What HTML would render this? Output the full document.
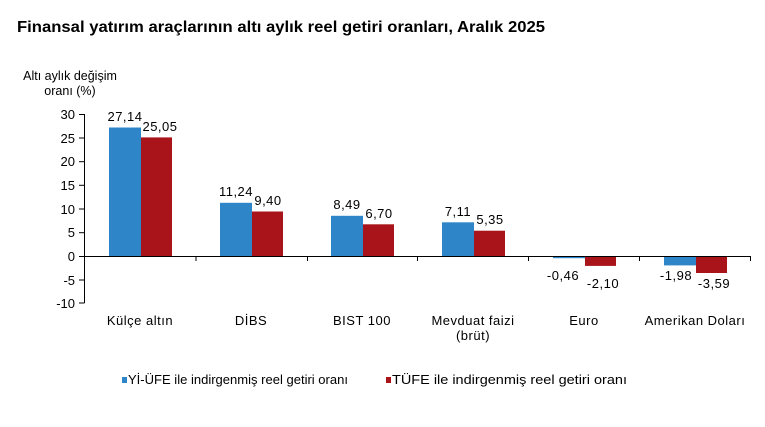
<!DOCTYPE html>
<html><head><meta charset="utf-8"><style>
html,body{margin:0;padding:0;background:#fff;}
svg{display:block;font-family:"Liberation Sans",Arial,sans-serif;}
</style></head><body>
<svg width="765" height="427" viewBox="0 0 765 427" xmlns="http://www.w3.org/2000/svg">
<text x="17" y="32" font-size="16" font-weight="bold" fill="#000" textLength="528" lengthAdjust="spacingAndGlyphs">Finansal yatırım araçlarının altı aylık reel getiri oranları, Aralık 2025</text>
<text x="70" y="80" font-size="12.5" text-anchor="middle" fill="#000">Altı aylık değişim</text>
<text x="70" y="95" font-size="12.5" text-anchor="middle" fill="#000">oranı (%)</text>
<g font-size="13" text-anchor="end" fill="#000">
<text x="75" y="119">30</text><text x="75" y="143">25</text><text x="75" y="166">20</text>
<text x="75" y="190">15</text><text x="75" y="214">10</text><text x="75" y="237">5</text>
<text x="75" y="261">0</text><text x="75" y="285">-5</text><text x="75" y="308">-10</text>
</g>
<g fill="#2E86C8">
<rect x="109" y="127.5" width="32" height="128.5"/>
<rect x="220" y="202.8" width="32" height="53.2"/>
<rect x="331" y="215.8" width="32" height="40.2"/>
<rect x="442" y="222.3" width="32" height="33.7"/>
<rect x="553" y="256" width="32" height="2.2"/>
<rect x="664" y="256" width="32" height="9.4"/>
</g>
<g fill="#A8141A">
<rect x="141" y="137.4" width="31" height="118.6"/>
<rect x="252" y="211.5" width="31" height="44.5"/>
<rect x="363" y="224.3" width="31" height="31.7"/>
<rect x="474" y="230.7" width="31" height="25.3"/>
<rect x="585" y="256" width="31" height="9.9"/>
<rect x="696" y="256" width="31" height="17"/>
</g>
<g stroke="#000" stroke-width="1" fill="none">
<line x1="84.5" y1="114" x2="84.5" y2="303"/>
<line x1="79" y1="114.5" x2="84.5" y2="114.5"/><line x1="79" y1="138" x2="84.5" y2="138"/>
<line x1="79" y1="161.7" x2="84.5" y2="161.7"/><line x1="79" y1="185.3" x2="84.5" y2="185.3"/>
<line x1="79" y1="209" x2="84.5" y2="209"/><line x1="79" y1="232.7" x2="84.5" y2="232.7"/>
<line x1="79" y1="256.5" x2="84.5" y2="256.5"/><line x1="79" y1="280" x2="84.5" y2="280"/>
<line x1="79" y1="303" x2="84.5" y2="303"/>
<line x1="84" y1="256.5" x2="751" y2="256.5"/>
<line x1="196" y1="256" x2="196" y2="261"/><line x1="307.5" y1="256" x2="307.5" y2="261"/>
<line x1="417.5" y1="256" x2="417.5" y2="261"/><line x1="528.5" y1="256" x2="528.5" y2="261"/>
<line x1="639.5" y1="256" x2="639.5" y2="261"/><line x1="750.5" y1="256" x2="750.5" y2="261"/>
</g>
<g font-size="13" text-anchor="middle" fill="#000" letter-spacing="0.5">
<text x="125" y="121">27,14</text><text x="160" y="131">25,05</text>
<text x="236" y="196">11,24</text><text x="268" y="205">9,40</text>
<text x="347" y="209">8,49</text><text x="379" y="218">6,70</text>
<text x="458" y="216">7,11</text><text x="490" y="224">5,35</text>
<text x="563" y="280">-0,46</text><text x="603" y="288">-2,10</text>
<text x="676" y="280">-1,98</text><text x="714" y="288">-3,59</text>
<text x="140" y="325">Külçe altın</text>
<text x="251" y="325">DİBS</text>
<text x="362" y="325">BIST 100</text>
<text x="473" y="325">Mevduat faizi</text>
<text x="473" y="340">(brüt)</text>
<text x="584" y="325">Euro</text>
<text x="695" y="325">Amerikan Doları</text>
</g>
<rect x="122" y="377" width="5" height="6" fill="#2E86C8"/>
<text x="128" y="384" font-size="12.5" fill="#000" textLength="220" lengthAdjust="spacingAndGlyphs">Yİ-ÜFE ile indirgenmiş reel getiri oranı</text>
<rect x="386" y="377" width="5" height="6" fill="#A8141A"/>
<text x="392" y="384" font-size="12.5" fill="#000" textLength="235" lengthAdjust="spacingAndGlyphs">TÜFE ile indirgenmiş reel getiri oranı</text>
</svg>
</body></html>
